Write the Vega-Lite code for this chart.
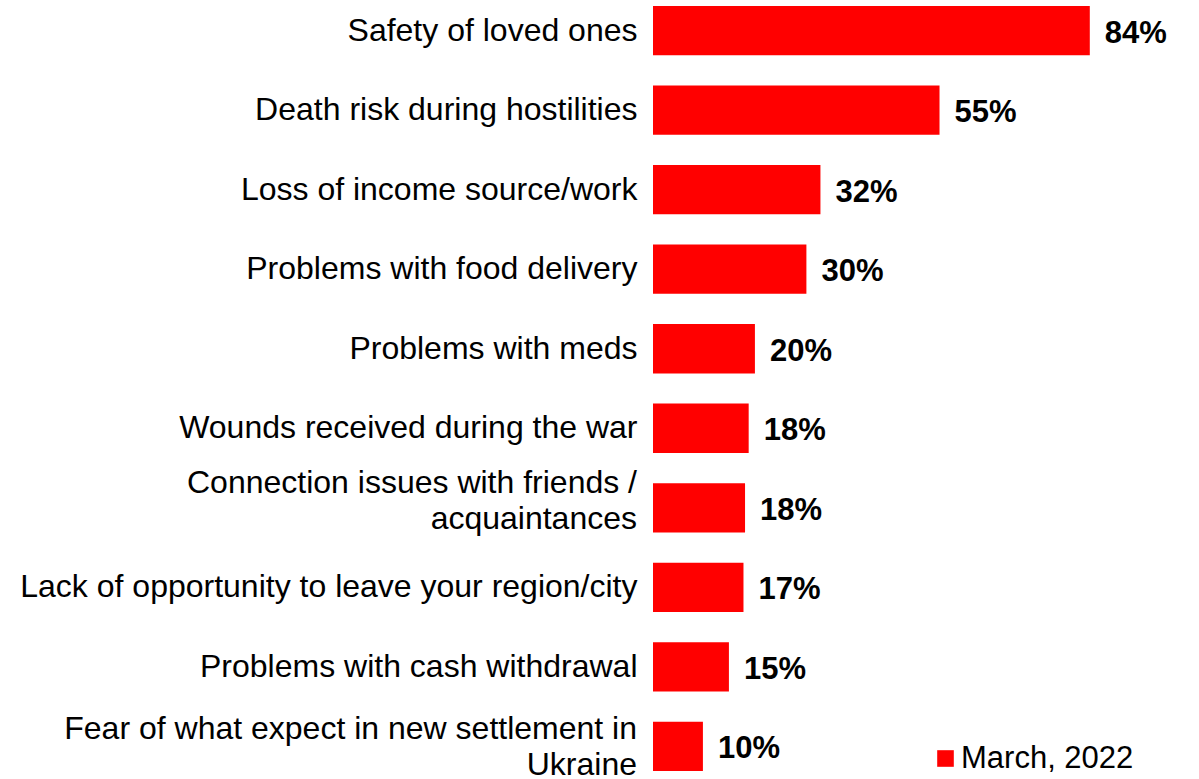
{
  "$schema": "https://vega.github.io/schema/vega-lite/v6.json",
  "width": 520,
  "height": 777,
  "autosize": "none",
  "padding": {"left": 653, "top": 0, "right": 0, "bottom": 0},
  "background": "white",
  "config": {"view": {"stroke": null}, "font": "Liberation Sans"},
  "data": {
    "values": [
      {"category": "Safety of loved ones", "value": 84.0, "pct": "84%", "series": "March, 2022"},
      {"category": "Death risk during hostilities", "value": 55.1, "pct": "55%", "series": "March, 2022"},
      {"category": "Loss of income source/work", "value": 32.2, "pct": "32%", "series": "March, 2022"},
      {"category": "Problems with food delivery", "value": 29.5, "pct": "30%", "series": "March, 2022"},
      {"category": "Problems with meds", "value": 19.6, "pct": "20%", "series": "March, 2022"},
      {"category": "Wounds received during the war", "value": 18.4, "pct": "18%", "series": "March, 2022"},
      {"category": "Connection issues with friends /|acquaintances", "value": 17.7, "pct": "18%", "series": "March, 2022"},
      {"category": "Lack of opportunity to leave your region/city", "value": 17.4, "pct": "17%", "series": "March, 2022"},
      {"category": "Problems with cash withdrawal", "value": 14.6, "pct": "15%", "series": "March, 2022"},
      {"category": "Fear of what expect in new settlement in|Ukraine", "value": 9.6, "pct": "10%", "series": "March, 2022"}
    ]
  },
  "encoding": {
    "y": {
      "field": "category",
      "type": "nominal",
      "sort": null,
      "scale": {"paddingInner": 0.38, "paddingOuter": 0.0755},
      "axis": {
        "title": null,
        "domain": false,
        "ticks": false,
        "tickSize": 0,
        "labelPadding": 16,
        "labelFontSize": 32,
        "labelFont": "Liberation Sans",
        "labelColor": "#000000",
        "labelLimit": 0,
        "labelExpr": "indexof(datum.label, '|') >= 0 ? '' : datum.label"
      }
    },
    "x": {
      "field": "value",
      "type": "quantitative",
      "scale": {"domain": [0, 100]},
      "axis": null
    }
  },
  "layer": [
    {
      "mark": {"type": "bar"},
      "encoding": {
        "color": {
          "field": "series",
          "type": "nominal",
          "scale": {"range": ["#ff0000"]},
          "legend": {
            "title": null,
            "orient": "none",
            "legendX": 277,
            "legendY": 743,
            "padding": 0,
            "symbolType": "square",
            "symbolSize": 276,
            "symbolStrokeWidth": 0,
            "labelFontSize": 31,
            "labelFont": "Liberation Sans",
            "labelColor": "#000000",
            "labelLimit": 0,
            "labelOffset": 0
          }
        }
      }
    },
    {
      "mark": {"type": "text", "align": "left", "baseline": "middle", "dx": 15, "dy": 3, "fontSize": 31, "fontWeight": "bold", "color": "#000000", "font": "Liberation Sans"},
      "encoding": {"text": {"field": "pct"}}
    },
    {
      "transform": [{"filter": "indexof(datum.category, 'Connection') >= 0"}],
      "mark": {"type": "text", "align": "right", "baseline": "middle", "dx": -16, "dy": -25, "fontSize": 32, "lineHeight": 36, "lineBreak": "|", "color": "#000000", "font": "Liberation Sans"},
      "encoding": {"x": {"datum": 0}, "text": {"field": "category"}}
    },
    {
      "transform": [{"filter": "indexof(datum.category, 'Fear of') >= 0"}],
      "mark": {"type": "text", "align": "right", "baseline": "middle", "dx": -16, "dy": -17, "fontSize": 32, "lineHeight": 36, "lineBreak": "|", "color": "#000000", "font": "Liberation Sans"},
      "encoding": {"x": {"datum": 0}, "text": {"field": "category"}}
    }
  ]
}
